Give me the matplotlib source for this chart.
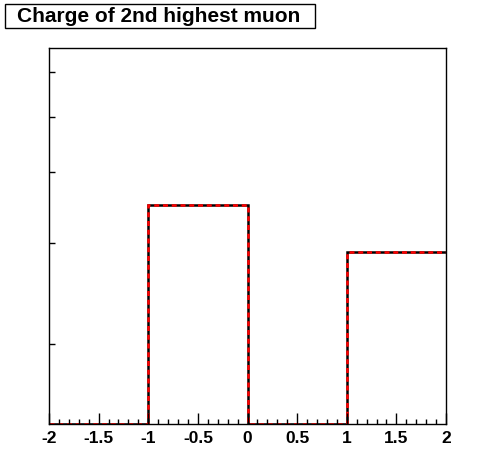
import numpy as np
import matplotlib
matplotlib.use("Agg")
import matplotlib.pyplot as plt
from matplotlib.patches import Rectangle
from matplotlib.ticker import MultipleLocator, FixedLocator, NullFormatter

# histogram contents
bin_edges = [-2, -1, 0, 1, 2]
counts = [0, 3510, 0, 2900]
y_ticks = [2000, 3000, 4000, 5000, 6000]
x_ticks = [-2, -1.5, -1, -0.5, 0, 0.5, 1, 1.5, 2]
x_labels = ["-2", "-1.5", "-1", "-0.5", "0", "0.5", "1", "1.5", "2"]
title = "Charge of 2nd highest muon"

ymin, ymax = 1446, 6610

plt.rcParams['font.family'] = ['Liberation Sans', 'DejaVu Sans']

fig = plt.figure(figsize=(4.96, 4.72), dpi=100)
ax = fig.add_axes([49/496, 1 - 424/472, 397/496, 376/472])

vals = np.maximum(np.array(counts, dtype=float), ymin)
ax.stairs(vals, bin_edges, baseline=None, color="black", linewidth=1.8)
ax.stairs(vals, bin_edges, baseline=None, color="red", linewidth=1.8,
          linestyle=(0, (2.0, 1.5)))

ax.set_yscale("log")
ax.set_xlim(-2, 2)
ax.set_ylim(ymin, ymax)

ax.set_xticks(x_ticks)
ax.set_xticklabels(x_labels, fontsize=12.5, fontweight="bold")
ax.xaxis.set_minor_locator(MultipleLocator(0.1))
ax.yaxis.set_major_locator(FixedLocator(y_ticks))
ax.yaxis.set_major_formatter(NullFormatter())
ax.yaxis.set_minor_locator(FixedLocator([]))
ax.yaxis.set_minor_formatter(NullFormatter())

ax.tick_params(axis="x", which="major", direction="in", length=8, width=1, pad=5)
ax.tick_params(axis="x", which="minor", direction="in", length=3.8, width=1)
ax.tick_params(axis="y", which="major", direction="in", length=4.3, width=1)
for s in ax.spines.values():
    s.set_linewidth(1)

# title box, ROOT style
fig.add_artist(Rectangle((5/496, 1 - 28/472), 310/496, 24/472,
                         transform=fig.transFigure, facecolor="white",
                         edgecolor="black", linewidth=1))
fig.text(159/496, 1 - 16/472, title, ha="center", va="center",
         fontsize=15, fontweight="bold")

fig.savefig("out.png", dpi=100)
